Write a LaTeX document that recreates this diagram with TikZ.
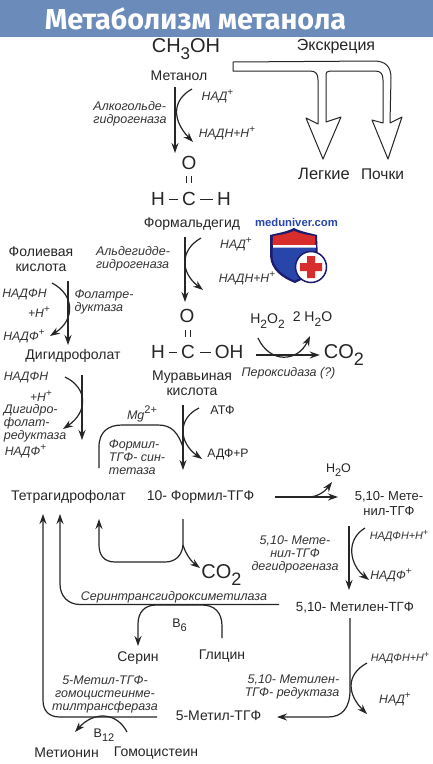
\documentclass[tikz,border=0pt]{standalone}
\usepackage{fontspec}
\setmainfont{Liberation Sans}
\newfontfamily\titlefont{Fira Sans}
\usetikzlibrary{arrows.meta}
\definecolor{titleblue}{RGB}{107,140,186}
\definecolor{logonavy}{RGB}{28,28,110}
\definecolor{logoblue}{RGB}{40,70,170}
\definecolor{logored}{RGB}{215,45,45}
\newcommand{\lowtext}[2]{\raisebox{-0.32em}{\fontsize{#1}{#1}\selectfont\upshape #2}}
\newcommand{\hightext}[2]{\raisebox{0.42em}{\fontsize{#1}{#1}\selectfont\upshape #2}}

\begin{document}
\begin{tikzpicture}[
    x=1pt, y=-1pt,
    lbl/.style={font=\fontsize{14}{14}\selectfont, text=black!85, inner sep=0pt, align=center},
    enz/.style={font=\fontsize{12.5}{13}\selectfont\itshape, text=black!80, inner sep=0pt, align=left},
    cof/.style={font=\fontsize{12.2}{13}\selectfont\itshape, text=black!80, inner sep=0pt, align=left},
    chem/.style={font=\fontsize{19}{20}\selectfont, text=black!85, inner sep=0pt},
    arrow/.style={-{Stealth[length=10pt,width=7pt]}, line width=1.2pt, draw=black!85},
    plain/.style={line width=1.2pt, draw=black!85},
    bond/.style={line width=0.8pt, draw=black!85},
    hollow/.style={line width=1pt, draw=black!85, fill=white, line join=round}
]
    \useasboundingbox (0,0) rectangle (433,764);
    \fill[white] (0,0) rectangle (433,764);

    % ================= TITLE =================
    \fill[titleblue] (0,0) rectangle (433,36.5);
    \node[font=\titlefont\fontsize{28.8}{32}\selectfont\bfseries, text=white, inner sep=0pt] (Title) at (195.5,19) {Метаболизм метанола};

    % ================= METHANOL =================
    \node[font=\fontsize{20}{22}\selectfont, text=black!85, inner sep=0pt] (Methanol) at (186,49) {CH\lowtext{17}{3}OH};
    \node[lbl] (MethanolName) at (179,76) {Метанол};
    \node[lbl, font=\fontsize{16}{16}\selectfont] (Excretion) at (336,47) {Экскреция};
    \node[lbl, font=\fontsize{16.5}{16}\selectfont] (Lungs) at (324,174) {Легкие};
    \node[lbl, font=\fontsize{15.5}{16}\selectfont] (Kidneys) at (382.5,174) {Почки};

    \draw[hollow] (233,62) -- (374,61) .. controls (386,61) and (391,67) .. (391,78) -- (390,123)
        -- (402,117) -- (388,159) -- (372,120) -- (383,123) -- (383,80)
        .. controls (383,74) and (381,71) .. (375,71) -- (330,71)
        .. controls (327,71) and (326,72) .. (326,76) -- (326,122)
        -- (341,117) -- (323,159) -- (306,118) -- (318,124) -- (318,80)
        .. controls (318,74) and (316,71) .. (310,71) -- (233,71) -- cycle;

    \coordinate (MethanolA) at (175,87);
    \coordinate (MethanolB) at (175,153);
    \coordinate (NadIn) at (192,89);
    \coordinate (NadOut) at (193,142);
    \draw[arrow] (MethanolA) -- (MethanolB);
    \draw[arrow] (NadIn) .. controls (172,100) and (172,120) .. (NadOut);
    \node[cof] (Nad) at (217.5,96) {НАД\hightext{10}{+}};
    \node[cof] (Nadh) at (227,133) {НАДН+Н\hightext{10}{+}};
    \node[enz] (Adh) at (130,113.5) {Алкогольде-\\гидрогеназа};

    % ================= FORMALDEHYDE =================
    \node[chem] (FormO) at (189,163) {O};
    \node[chem] (FormC) at (189,199) {C};
    \node[chem] (FormHl) at (158,199) {H};
    \node[chem] (FormHr) at (224,199) {H};
    \draw[bond] (186.5,176) -- (186.5,183) (191.5,176) -- (191.5,183);
    \draw[bond, shorten <=4pt, shorten >=4pt] (FormHl) -- (FormC);
    \draw[bond, shorten <=4pt, shorten >=4pt] (FormC) -- (FormHr);
    \node[lbl] (FormName) at (192,224) {Формальдегид};

    \coordinate (FormA) at (185,237);
    \coordinate (FormB) at (185,302);
    \coordinate (NadInB) at (201,238);
    \coordinate (NadOutB) at (203,290);
    \draw[arrow] (FormA) -- (FormB);
    \draw[arrow] (NadInB) .. controls (180,250) and (180,272) .. (NadOutB);
    \node[cof] (NadB) at (236,244) {НАД\hightext{10}{+}};
    \node[cof] (NadhB) at (247,278) {НАДН+Н\hightext{10}{+}};
    \node[enz] (Aldh) at (133,258.5) {Альдегидде-\\гидрогеназа};

    % ================= LOGO =================
    \node[font=\fontsize{11.3}{12}\selectfont\bfseries, text=logoblue, inner sep=0pt] (LogoText) at (296.5,222) {meduniver.com};
    \fill[logonavy] (270,235) .. controls (278,233) and (286,232) .. (294,228)
        .. controls (302,232) and (310,233) .. (317,235) -- (318,260)
        .. controls (316,272) and (306,278) .. (295,283)
        .. controls (282,278) and (271,270) .. (270,256) -- cycle;
    \fill[logored] (273,236) .. controls (280,235) and (287,234) .. (294,231)
        .. controls (301,234) and (308,235) .. (315,236) -- (315.5,245) -- (272.5,245) -- cycle;
    \fill[white] (272.5,245) rectangle (315.5,247.5);
    \fill[logoblue] (272.5,247.5) -- (315.5,247.5) -- (315.5,260)
        .. controls (313,270) and (304,276) .. (295,280.5)
        .. controls (284,276) and (273,268) .. (272.5,256) -- cycle;
    \filldraw[fill=white, draw=logonavy, line width=1.5pt] (311,267) circle (15.5);
    \fill[logored] (307,256) rectangle (315,278) (300,263) rectangle (322,271);

    % ================= FOLIC ACID =================
    \node[lbl, align=center] (Folic) at (41,259.5) {Фолиевая\\[1pt]кислота};
    \coordinate (FolicA) at (68,281);
    \coordinate (FolicB) at (68,345);
    \coordinate (FolIn) at (52,283);
    \coordinate (FolOut) at (50,336);
    \draw[arrow] (FolicA) -- (FolicB);
    \draw[arrow] (FolIn) .. controls (75,295) and (75,320) .. (FolOut);
    \node[cof] (Nadph) at (24.5,294) {НАДФН};
    \node[cof] (PlusH) at (39,312) {+Н\hightext{10}{+}};
    \node[cof] (Nadp) at (24,336) {НАДФ\hightext{10}{+}};
    \node[enz] (Folr) at (104,302) {Фолатре-\\дуктаза};
    \node[lbl] (Dihydro) at (73,356) {Дигидрофолат};

    \coordinate (DihydroA) at (82,375);
    \coordinate (DihydroB) at (82,440);
    \coordinate (DhfIn) at (65,377);
    \coordinate (DhfOut) at (63,429);
    \draw[arrow] (DihydroA) -- (DihydroB);
    \draw[arrow] (DhfIn) .. controls (88,388) and (88,412) .. (DhfOut);
    \node[cof] (NadphB) at (26,377) {НАДФН};
    \node[cof] (PlusHB) at (41,396) {+Н\hightext{10}{+}};
    \node[enz] (Dhfr) at (35,423.5) {Дигидро-\\фолат-\\редуктаза};
    \node[cof] (NadpB) at (25.5,451) {НАДФ\hightext{10}{+}};

    % ================= FORMIC ACID =================
    \node[chem] (AcidO) at (187,316) {O};
    \node[chem] (AcidC) at (188,352) {C};
    \node[chem] (AcidH) at (158,352) {H};
    \node[chem] (AcidOH) at (229,352) {OH};
    \draw[bond] (185,330) -- (185,337) (190,330) -- (190,337);
    \draw[bond, shorten <=4pt, shorten >=4pt] (AcidH) -- (AcidC);
    \draw[bond, shorten <=5pt, shorten >=4pt] (AcidC) -- (AcidOH);
    \node[lbl, align=center] (Acid) at (192,383.5) {Муравьиная\\[1pt]кислота};

    \node[lbl] (Perox) at (267.5,321) {H\lowtext{12}{2}O\lowtext{12}{2}};
    \node[lbl] (Water) at (312.5,319) {2 H\lowtext{12}{2}O};
    \node[font=\fontsize{20}{22}\selectfont, text=black!85, inner sep=0pt] (CarbonA) at (344,355) {CO\lowtext{18}{2}};
    \coordinate (PerA) at (256,355);
    \coordinate (PeroxIn) at (258,338);
    \coordinate (WaterOut) at (310,336);
    \draw[arrow, shorten >=4pt] (PerA) -- (PerA -| CarbonA.west);
    \draw[arrow] (PeroxIn) .. controls (270,364) and (298,362) .. (WaterOut);
    \node[enz] (Peroxidase) at (288.5,373) {Пероксидаза (?)};

    % ================= FORMYL-THF =================
    \coordinate (AcidA) at (183,405);
    \coordinate (AcidB) at (183,470);
    \coordinate (AtpIn) at (199,408);
    \coordinate (AtpOut) at (202,459);
    \draw[arrow] (AcidA) -- (AcidB);
    \draw[arrow] (AtpIn) .. controls (178,418) and (178,442) .. (AtpOut);
    \node[lbl, font=\fontsize{12.5}{13}\selectfont] (Atp) at (222.5,410) {АТФ};
    \node[lbl, font=\fontsize{12.2}{13}\selectfont] (Adp) at (228,454) {АДФ+Р};
    \node[enz] (Mg) at (142,414) {Mg\hightext{11}{2+}};
    \coordinate (SynA) at (99,468);
    \coordinate (SynB) at (183,447);
    \draw[plain] (SynA) -- (99,447) .. controls (99,432) and (108,425) .. (122,425) -- (158,425)
        .. controls (172,425) and (178,433) .. (SynB);
    \node[enz] (Syn) at (137,457.5) {Формил-\\ТГФ- син-\\тетаза};

    \node[lbl] (Thf) at (68.5,497) {Тетрагидрофолат};
    \node[lbl] (FormylThf) at (200.5,497) {10- Формил-ТГФ};
    \coordinate (ThfA) at (275,497);
    \coordinate (ThfB) at (338,497);
    \coordinate (H2oSplit) at (310,497);
    \coordinate (H2oOut) at (332,482);
    \draw[arrow] (ThfA) -- (ThfB);
    \draw[arrow] (H2oSplit) .. controls (320,496) and (326,490) .. (H2oOut);
    \node[lbl, font=\fontsize{12.5}{13}\selectfont] (Htwo) at (338.5,470) {H\lowtext{11}{2}O};
    \node[lbl, font=\fontsize{13}{15}\selectfont, align=center] (Methenyl) at (389,503.5) {5,10- Мете-\\нил-ТГФ};

    % ================= CO2 BRANCH =================
    \coordinate (FormylA) at (183,519);
    \coordinate (FormylJoin) at (183,545);
    \coordinate (FormylBack) at (99,519);
    \coordinate (CarbonIn) at (200,568);
    \draw[arrow] (FormylA) -- (FormylJoin) .. controls (182,556) and (175,562) .. (165,562) -- (115,562)
        .. controls (104,562) and (99,555) .. (99,545) -- (FormylBack);
    \draw[arrow] (FormylJoin) .. controls (186,555) and (192,562) .. (CarbonIn);
    \node[font=\fontsize{20}{22}\selectfont, text=black!85, inner sep=0pt] (CarbonB) at (221.5,575) {CO\lowtext{18}{2}};

    % ================= METHYLENE-THF =================
    \coordinate (MethenylA) at (349,526);
    \coordinate (MethenylB) at (349,590);
    \coordinate (MdIn) at (365,528);
    \coordinate (MdOut) at (369,580);
    \draw[arrow] (MethenylA) -- (MethenylB);
    \draw[arrow] (MdIn) .. controls (345,540) and (350,565) .. (MdOut);
    \node[enz, font=\fontsize{10.8}{13}\selectfont\itshape] (NadphC) at (399,536) {НАДФН+Н\hightext{9}{+}};
    \node[cof] (NadpC) at (391,575) {НАДФ\hightext{10}{+}};
    \node[enz, align=center] (Mdh) at (295,554) {5,10- Мете-\\нил-ТГФ\\дегидрогеназа};
    \node[lbl, font=\fontsize{13.3}{15}\selectfont] (Methylene) at (355,608) {5,10- Метилен-ТГФ};

    \coordinate (MethyleneA) at (350,618);
    \coordinate (MethyleneJoin) at (350,690);
    \coordinate (MethylIn) at (277,717);
    \coordinate (MrIn) at (367,663);
    \coordinate (MrOut) at (367,714);
    \draw[arrow] (MethyleneA) -- (MethyleneJoin) .. controls (350,708) and (342,717) .. (328,717) -- (MethylIn);
    \draw[arrow] (MrIn) .. controls (345,675) and (348,695) .. (MrOut);
    \node[enz, font=\fontsize{10.8}{13}\selectfont\itshape] (NadphD) at (400,658) {НАДФН+Н\hightext{9}{+}};
    \node[cof] (NadC) at (395,699) {НАД\hightext{10}{+}};
    \node[enz, align=right] (Mr) at (292,687) {5,10- Метилен-\\ТГФ- редуктаза};
    \node[lbl] (Methyl) at (218.5,716) {5-Метил-ТГФ};

    % ================= SERINE =================
    \coordinate (MethyleneBack) at (279,604.5);
    \coordinate (ThfInB) at (60,514);
    \draw[arrow] (MethyleneBack) -- (80,604.5) .. controls (68,604.5) and (60,596) .. (60,584) -- (ThfInB);
    \node[enz] (Shmt) at (174,597) {Серинтрансгидроксиметилаза};
    \node[lbl] (Glycine) at (222,656) {Глицин};
    \node[lbl] (Serine) at (138,658.5) {Серин};
    \coordinate (GlyA) at (222,638);
    \coordinate (SerB) at (138,646);
    \draw[arrow] (GlyA) -- (222,626) .. controls (222,612) and (214,605) .. (202,605) -- (156,605)
        .. controls (145,605) and (138,612) .. (138,624) -- (SerB);
    \node[lbl, font=\fontsize{12.5}{13}\selectfont] (BSix) at (179.5,625) {B\lowtext{11}{6}};

    % ================= METHIONINE =================
    \coordinate (MethylA) at (157,717);
    \coordinate (ThfInA) at (43,514);
    \coordinate (HcyIn) at (127,732);
    \coordinate (MetOut) at (75,732);
    \draw[arrow] (MethylA) -- (60,717) .. controls (49,717) and (43,711) .. (43,700) -- (ThfInA);
    \draw[arrow] (HcyIn) .. controls (116,711) and (93,712) .. (MetOut);
    \node[enz, align=center] (Ms) at (105,694) {5-Метил-ТГФ-\\гомоцистеинме-\\тилтрансфераза};
    \node[lbl, font=\fontsize{12.5}{13}\selectfont] (BTwelve) at (104,735) {B\lowtext{11}{12}};
    \node[lbl] (Methionine) at (66.5,753) {Метионин};
    \node[lbl] (Homocysteine) at (156,753) {Гомоцистеин};
\end{tikzpicture}
\end{document}
